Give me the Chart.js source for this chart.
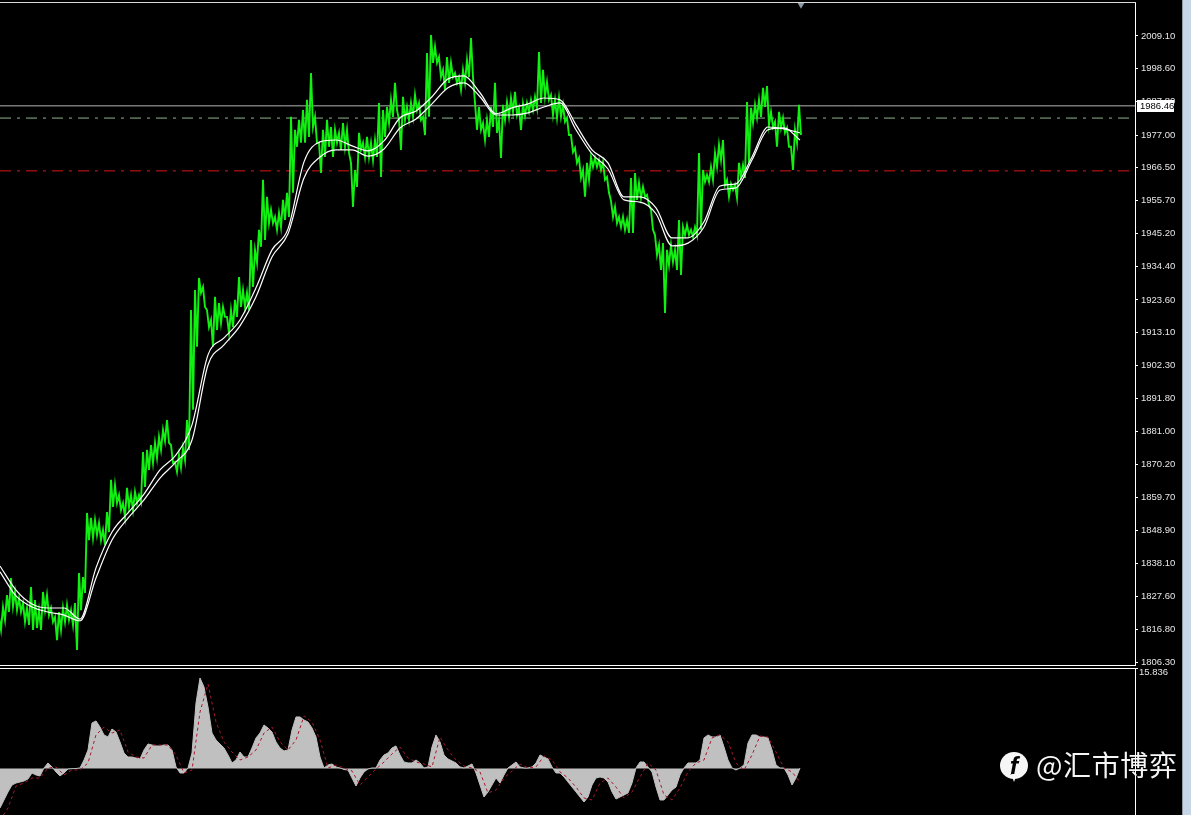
<!DOCTYPE html>
<html><head><meta charset="utf-8">
<style>
html,body{margin:0;padding:0;background:#000;width:1191px;height:815px;overflow:hidden}
canvas{position:absolute;left:0;display:block}
#strip{position:absolute;left:1182px;top:0;width:9px;height:815px;background:#c6d6e6;border-left:1px solid #8f9aa5;box-sizing:border-box}
#mark{position:absolute;left:1036px;top:744px;font:28px/40px "Noto Sans CJK SC";color:#f6f6f6;white-space:nowrap;letter-spacing:0.6px}
#icon{position:absolute;left:1000px;top:752px;width:28px;height:27px;border-radius:50%;background:#f6f6f6;color:#000;font:italic bold 25px/28px "Liberation Sans";text-align:center}
#tail{position:absolute;left:1011px;top:774px;width:0;height:0;border-left:3px solid transparent;border-right:3px solid transparent;border-top:8px solid #f6f6f6}
</style></head><body>
<canvas id="main" width="1191" height="666" style="top:0;width:1191px;height:666px"></canvas>
<canvas id="sub" width="1191" height="148" style="top:667px;width:1191px;height:148px"></canvas>
<div id="strip"></div>
<div id="icon">f</div><div id="tail"></div>
<div id="mark">@汇市博弈</div>
<script src="https://cdn.jsdelivr.net/npm/chart.js@4/dist/chart.umd.min.js"></script>
<script>
const priceTicks=[2009.10,1998.60,1987.80,1977.00,1966.50,1955.70,1945.20,1934.40,1923.60,1913.10,1902.30,1891.80,1881.00,1870.20,1859.70,1848.90,1838.10,1827.60,1816.80,1806.30];
const oscTicks=[15.836];
const currentPrice=1986.46, greenLevel=1982.5, redLevel=1965.4, cursorLevel=2019.2, cursorBar=200.25;
const priceHigh=[1820.9,1824.1,1828,1833.5,1829,1827,1825.4,1823.8,1830.6,1826.4,1823.1,1829,1828,1823.8,1820.9,1822.5,1823.8,1824.8,1823.1,1825.4,1835.1,1833.8,1854.6,1853,1852.3,1851.3,1849.1,1854.9,1865.3,1863.6,1860.4,1857.8,1862.7,1860.4,1861.4,1860.4,1874.3,1875,1876.6,1877.3,1879.2,1881.5,1884.7,1876.6,1871.1,1873.4,1875.6,1884.7,1920.3,1926.8,1930.7,1927.8,1920.3,1917.1,1924.6,1922.6,1921.3,1918.1,1920.3,1923.6,1931,1926.8,1925.9,1943,1939.8,1946.3,1962.5,1957,1952.8,1950.5,1951.8,1956,1958.3,1982.9,1978.7,1981.9,1985.1,1988.4,1997.1,1982.9,1974.5,1978.7,1981.9,1979.6,1978.7,1977.7,1980.9,1978.7,1968,1965.7,1977.7,1974.5,1976.4,1974.5,1975.4,1987.4,1985.1,1986.1,1988.4,1993.9,1981.9,1989.4,1986.1,1987.4,1990,1987.4,1982.9,2003.6,2009.4,2005.6,2002.3,1998.1,2002.3,2000.4,1997.1,1995.8,1998.1,2001.3,2008.4,1987.4,1986.1,1980.9,1981.9,1986.1,1993.9,1981.9,1986.8,1987.7,1989,1991,1985.8,1987.1,1987.4,1988.4,1989.4,2003.9,1998.1,1994.2,1990,1988.4,1989,1986.8,1982.6,1977,1972.8,1969.6,1965.7,1968,1969.9,1969.6,1968.9,1968.3,1963.4,1955.7,1953.7,1950.5,1950.5,1949.5,1963.1,1964.7,1961.5,1960.2,1957.6,1952.8,1944.6,1941.4,1942,1939.8,1941.4,1939.8,1949.5,1947.2,1947.9,1946.3,1947.2,1971.2,1965.7,1964.1,1966.7,1971.2,1973.8,1975.4,1962.5,1961.2,1960.9,1968,1967.3,1987.7,1985.8,1986.8,1988.4,1992.3,1992.9,1984.5,1981.3,1984.5,1982.6,1979.3,1973.2,1978.7,1986.8];
const priceLow=[1816.7,1819.9,1822.5,1824.4,1823.1,1822.5,1819.3,1818.3,1816.7,1817.3,1816.7,1823.1,1821.5,1819.3,1813.4,1816.7,1819.3,1819.9,1818.3,1810.2,1823.1,1828.7,1845.8,1846.5,1847.4,1845.8,1844.2,1848.4,1856.5,1857.8,1855.5,1853.3,1856.5,1855.5,1857.8,1858.1,1863,1868.5,1870.8,1872.4,1875,1877.9,1877.3,1870.8,1867.9,1869.2,1871.7,1875,1888,1908.4,1925.9,1921.3,1914.8,1908.4,1913.9,1916.1,1918.1,1912.9,1914.8,1918.1,1921.3,1921.3,1920.3,1927.8,1935.6,1940.8,1943,1948.5,1948.5,1946.3,1947.2,1949.5,1950.5,1958.3,1973.2,1974.5,1974.5,1976.4,1979.6,1974.5,1964.7,1969.9,1973.2,1969.9,1974.5,1972.2,1973.2,1971.2,1953.7,1960.2,1972.2,1969.9,1969.9,1968.9,1969.9,1963.4,1976.4,1980.9,1982.9,1985.1,1972.2,1981.9,1981.9,1982.9,1985.1,1981.9,1977,1982.9,2000.4,2000.4,1995.8,1991.6,1993.9,1995.8,1993.9,1991.6,1993.9,1995.8,1995.8,1978.7,1978.7,1975.4,1976.4,1979.6,1977.7,1969.6,1981.9,1982.9,1984.5,1983.5,1978.7,1983.2,1984.5,1985.1,1985.8,1987.4,1989.4,1988.4,1983.5,1982.6,1982.9,1981.3,1977,1971.5,1968,1963.1,1957,1962.5,1966.7,1966.7,1965.7,1962.5,1958.3,1950.5,1948.5,1947.2,1946.3,1945.3,1945.3,1956,1956.6,1957,1954.4,1946.3,1938.2,1933.3,1919.4,1934.9,1935.9,1933.3,1931.7,1944.6,1944.6,1944,1944.6,1946.3,1961.8,1961.8,1962.5,1966.7,1968.9,1960.9,1957,1959.2,1956.6,1963.4,1963.1,1968,1980.9,1982.6,1982.9,1986.1,1980.3,1979.6,1973.2,1979.3,1977.7,1973.2,1965.7,1974.5,1977];
const maFast=[1837.4,1829.6,1825.1,1823.8,1823.8,1820.2,1836.8,1848.4,1854.6,1860.7,1868.5,1873.4,1883.1,1905.8,1911.3,1917.1,1927.5,1939.8,1946.6,1968.3,1974.8,1975.4,1973.5,1971.9,1975.1,1982.6,1984.8,1989.4,1995.2,1996.2,1990.7,1983.9,1985.8,1987.1,1989,1988.4,1980.3,1972.2,1968,1957,1957,1953.4,1943.7,1943.7,1948.9,1960.5,1961.2,1969.9,1979.6,1979,1977.7];
const maSlow=[1835.5,1827.7,1824.1,1822.5,1821.5,1819.6,1833.5,1845.8,1852.9,1858.8,1865.9,1871.1,1878.2,1902.5,1909,1915.2,1924.6,1937.5,1945,1963.1,1969.9,1972.2,1972.2,1970.2,1972.5,1979.3,1982.2,1987.1,1992.3,1993.9,1989.4,1983.5,1983.5,1984.2,1986.1,1987.4,1978.7,1970.9,1966,1956,1955.3,1951.5,1941.1,1942,1947.2,1959.2,1959.9,1968.9,1978.7,1979.3,1975.4];
const oscMain=[-6.23,-4.96,-3.70,-2.60,-2.29,-2.13,-1.97,-1.65,-0.71,-1.02,-1.18,0.08,0.87,0.24,-0.55,-1.18,-0.71,-0.08,-0.03,0,0.08,1.34,2.92,7.17,7.49,6.54,5.28,4.96,6.22,5.75,4.18,2.44,1.81,1.81,1.65,1.50,2.92,3.86,3.70,3.55,3.55,3.70,3.70,2.92,0.24,-0.71,-0.71,0.08,2.44,10.32,14.26,12.84,9.69,5.59,4.49,3.86,3.23,2.13,0.87,1.34,2.60,1.81,1.81,3.23,4.81,5.59,6.86,6.38,5.75,4.18,3.23,2.76,2.92,6.07,8.12,8.12,7.64,7.33,6.38,4.96,1.81,0.08,0.55,0.71,0.24,0.08,-0.16,-0.24,-1.50,-2.76,-1.50,-0.55,-0.08,0.08,0.08,1.34,2.13,2.44,3.23,3.55,2.13,1.02,0.87,0.87,1.34,0.87,0.08,0.24,3.39,5.28,4.18,2.13,1.50,1.18,0.87,0.24,0.08,0.39,0.71,-0.71,-2.60,-4.49,-3.70,-2.60,-1.50,-2.29,-1.02,0.08,0.55,1.02,0.24,0.08,0.08,0.24,0.87,2.13,1.81,1.50,0.24,-0.71,-0.71,-1.34,-2.13,-2.92,-3.70,-4.49,-5.28,-4.49,-2.60,-1.50,-1.34,-1.50,-2.13,-3.70,-4.81,-4.49,-4.18,-3.86,-2.29,0.08,1.02,1.02,0.24,-0.55,-2.92,-4.96,-4.96,-4.18,-3.39,-2.92,-1.02,0.08,0.87,0.87,0.87,1.34,4.81,5.28,4.96,4.96,5.28,3.39,1.34,0.08,-0.24,0.08,0.55,4.02,5.28,5.28,4.96,4.96,4.81,2.92,0.55,0.08,0.08,-1.02,-2.60,-1.50,0.08];
const oscSignal=[-8.12,-6.23,-2.76,-2.29,-1.50,-1.50,0.08,0.24,-1.02,-0.24,-0.24,0.87,5.28,6.54,5.59,6.07,2.60,1.81,1.65,3.70,3.70,3.70,2.13,-0.71,-0.24,8.90,13.32,7.33,4.18,2.60,1.34,1.81,2.92,5.59,6.54,4.18,2.92,4.49,8.27,7.33,4.49,0.08,0.55,0.08,-0.39,-2.60,-1.34,-0.08,1.02,2.29,3.39,1.65,1.02,0.71,0.24,4.96,2.92,1.34,0.39,0.08,-0.55,-3.86,-3.39,-1.50,-0.39,0.71,0.08,0.24,1.97,1.34,-0.55,-1.50,-2.92,-4.65,-4.96,-2.29,-1.50,-2.92,-4.65,-3.70,-1.34,0.87,-0.24,-4.18,-4.96,-3.07,-0.55,0.87,1.34,4.81,5.28,4.18,0.87,-0.24,2.13,5.12,4.96,2.60,0.08,-0.55,-2.13];

const LAST_BAR=283.75;
const zigzag=priceHigh.flatMap((h,i)=>[{x:i-0.25,y:h},{x:i+0.25,y:priceLow[i]}]);
const sampled=(arr,step)=>arr.map((y,i)=>({x:i*step,y}));
const level=y=>[{x:0,y},{x:LAST_BAR,y}];
const base={pointRadius:0,tension:0,fill:false,borderJoinStyle:'miter'};
const sharedOpts=()=>({animation:false,responsive:false,events:[],
  plugins:{legend:{display:false},tooltip:{enabled:false}},
  elements:{line:{borderCapStyle:'butt'}}});
const yAxis=(min,max,ticks,fmt,pad,align)=>({position:'right',min,max,
  afterFit(s){s.width=56;s.paddingTop=0;s.paddingBottom=0;s.paddingLeft=0;s.paddingRight=0},
  afterBuildTicks(s){s.ticks=ticks.map(value=>({value}))},
  border:{display:true,color:'#ffffff',width:1},
  grid:{display:true,drawOnChartArea:false,drawTicks:true,tickLength:3,color:'#ffffff'},
  ticks:{autoSkip:false,color:'#e6e6e6',padding:pad,align,font:{family:'"Liberation Sans"',size:9.5},callback:fmt,maxRotation:0}});

const frame={id:'frame',afterDraw(c){
  const g=c.ctx,a=c.chartArea;g.save();g.fillStyle='#ffffff';
  if(c.canvas.id==='main'){
    g.fillStyle='#d8d8d8';g.fillRect(0,a.top,a.right+1,1);
    g.fillStyle='#ffffff';g.fillRect(0,a.bottom,a.right+1,1);
    const y=c.scales.y.getPixelForValue(currentPrice);
    g.fillStyle='#ffffff';g.fillRect(1137,Math.round(y)-6,37,12);
    g.fillStyle='#000000';g.font='9.5px "Liberation Sans"';g.textBaseline='middle';g.textAlign='left';
    g.fillText(currentPrice.toFixed(2),1140,Math.round(y));
  }else{
    g.fillRect(0,a.top,a.right+1,1);
  }
  g.restore();
}};

new Chart(document.getElementById('main'),{type:'line',
  data:{datasets:[
    {...base,data:[{x:cursorBar,y:cursorLevel}],pointRadius:4,pointStyle:'triangle',rotation:180,pointBackgroundColor:'#8c99a6',pointBorderWidth:0,showLine:false,clip:false,order:0},
    {...base,data:sampled(maFast,4),borderColor:'#ffffff',borderWidth:1.2,cubicInterpolationMode:'monotone',order:1},
    {...base,data:sampled(maSlow,4),borderColor:'#ffffff',borderWidth:1.2,cubicInterpolationMode:'monotone',order:1},
    {...base,data:zigzag,borderColor:'#12f012',borderWidth:1.9,order:2},
    {...base,data:level(currentPrice),borderColor:'#b4b4b4',borderWidth:1,order:3},
    {...base,data:level(greenLevel),borderColor:'#8fb58f',borderWidth:1,borderDash:[11,6,3,6],order:3},
    {...base,data:level(redLevel),borderColor:'#d81818',borderWidth:1,borderDash:[11,6,3,6],order:3}
  ]},
  options:{...sharedOpts(),layout:{autoPadding:false,padding:{top:2,bottom:1,left:0,right:0}},
    scales:{
      x:{type:'linear',display:false,min:0,max:LAST_BAR},
      y:yAxis(1805.33,2020.1,priceTicks,v=>Number(v).toFixed(2),3,'center')
    }},
  plugins:[frame]});

new Chart(document.getElementById('sub'),{type:'line',
  data:{datasets:[
    {...base,data:sampled(oscSignal,2),borderColor:'#a8182c',borderWidth:1,borderDash:[3,3],order:1},
    {...base,data:sampled(oscMain,1),borderColor:'#c0c0c0',borderWidth:1,backgroundColor:'#c0c0c0',fill:{value:0},order:2}
  ]},
  options:{...sharedOpts(),layout:{autoPadding:false,padding:{top:1,bottom:0,left:0,right:0}},
    scales:{
      x:{type:'linear',display:false,min:0,max:LAST_BAR},
      y:yAxis(-7.33,15.836,oscTicks,v=>Number(v).toFixed(3),1,'start')
    }},
  plugins:[frame]});
</script>
</body></html>
